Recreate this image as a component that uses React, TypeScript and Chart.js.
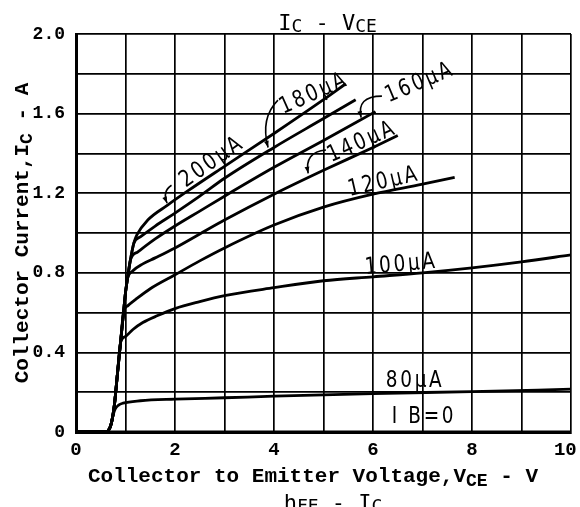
import React, { useEffect, useRef } from "react";
import { Chart, registerables } from "chart.js";

Chart.register(...registerables);

type Pt = [number, number];

// ---- data (VCE [V], IC [A]) ----
const xTickValues = [0, 2, 4, 6, 8, 10];
const yTickValues = [0, 0.4, 0.8, 1.2, 1.6, 2.0];

const ib0: Pt[] = [[0, 0], [10, 0]];
const ib80: Pt[] = [[0, 0], [0.6, 0], [0.66, 0.01], [0.71, 0.04], [0.75, 0.085], [0.79, 0.115], [0.86, 0.135], [0.95, 0.145], [1.3, 0.157], [2, 0.165], [3, 0.172], [4, 0.18], [6, 0.193], [8, 0.203], [10, 0.215]];
const ib100: Pt[] = [[0, 0], [0.6, 0], [0.66, 0.01], [0.71, 0.04], [0.75, 0.09], [0.78, 0.145], [0.84, 0.3], [0.9, 0.45], [1.0, 0.48], [1.15, 0.515], [1.35, 0.55], [1.65, 0.585], [2, 0.62], [2.5, 0.655], [3, 0.685], [4, 0.725], [5, 0.76], [6, 0.78], [7, 0.8], [8, 0.825], [9, 0.855], [10, 0.89]];
const ib120: Pt[] = [[0, 0], [0.6, 0], [0.66, 0.01], [0.71, 0.04], [0.75, 0.09], [0.78, 0.145], [0.84, 0.3], [0.9, 0.45], [0.96, 0.6], [1.05, 0.635], [1.2, 0.665], [1.5, 0.72], [2, 0.79], [2.5, 0.86], [3, 0.925], [4, 1.04], [5, 1.13], [6, 1.195], [7, 1.245], [7.65, 1.28]];
const ib140: Pt[] = [[0, 0], [0.6, 0], [0.66, 0.01], [0.71, 0.04], [0.75, 0.09], [0.78, 0.145], [0.84, 0.3], [0.9, 0.45], [0.96, 0.6], [1.0, 0.7], [1.04, 0.77], [1.15, 0.81], [1.35, 0.845], [1.6, 0.875], [2, 0.925], [2.5, 0.995], [3, 1.065], [4, 1.195], [5, 1.315], [6, 1.43], [6.5, 1.49]];
const ib160: Pt[] = [[0, 0], [0.6, 0], [0.66, 0.01], [0.71, 0.04], [0.75, 0.09], [0.78, 0.145], [0.84, 0.3], [0.9, 0.45], [0.96, 0.6], [1.0, 0.7], [1.04, 0.77], [1.1, 0.865], [1.25, 0.905], [1.6, 0.97], [2, 1.035], [2.5, 1.11], [3, 1.185], [4, 1.33], [5, 1.465], [6.05, 1.61]];
const ib180: Pt[] = [[0, 0], [0.6, 0], [0.66, 0.01], [0.71, 0.04], [0.75, 0.09], [0.78, 0.145], [0.84, 0.3], [0.9, 0.45], [0.96, 0.6], [1.0, 0.7], [1.04, 0.77], [1.1, 0.865], [1.17, 0.95], [1.3, 0.98], [1.6, 1.035], [2, 1.1], [2.5, 1.185], [3, 1.275], [4, 1.43], [5, 1.575], [5.65, 1.67]];
const ib200: Pt[] = [[0, 0], [0.6, 0], [0.66, 0.01], [0.71, 0.04], [0.75, 0.09], [0.78, 0.145], [0.84, 0.3], [0.9, 0.45], [0.96, 0.6], [1.0, 0.7], [1.04, 0.77], [1.1, 0.865], [1.17, 0.95], [1.23, 0.99], [1.45, 1.065], [1.85, 1.14], [2.25, 1.21], [3, 1.335], [4, 1.5], [5, 1.67], [5.45, 1.75]];

const seriesNames = ["IB=0", "80µA", "100µA", "120µA", "140µA", "160µA", "180µA", "200µA"];
const seriesData: Pt[][] = [ib0, ib80, ib100, ib120, ib140, ib160, ib180, ib200];

// curve labels (text, anchor in data units, rotation in degrees)
const curveLabels = [
  { text: "200µA", v: 2.75, i: 1.357, angle: 35 },
  { text: "180µA", v: 4.81, i: 1.70, angle: 24 },
  { text: "160µA", v: 6.95, i: 1.755, angle: 23 },
  { text: "140µA", v: 5.78, i: 1.457, angle: 24 },
  { text: "120µA", v: 6.22, i: 1.256, angle: 13 },
  { text: "100µA", v: 6.57, i: 0.84, angle: 5 },
  { text: "80µA", v: 6.85, i: 0.256, angle: 0 },
  { text: "I B=0", v: 7.03, i: 0.075, angle: 0 },
];

// leader arrows from label to curve (start, control, end in data units)
const leaders = [
  { s: [1.93, 1.24], c: [1.74, 1.21], e: [1.84, 1.15] },
  { s: [4.08, 1.668], c: [3.72, 1.578], e: [3.88, 1.43] },
  { s: [6.18, 1.688], c: [5.66, 1.688], e: [5.76, 1.58] },
  { s: [5.05, 1.417], c: [4.61, 1.407], e: [4.69, 1.30] },
];

type Part = { t: string; size: number; dy?: number };

function drawRich(ctx: CanvasRenderingContext2D, parts: Part[], cx: number, baseY: number, family: string, weight: string) {
  let total = 0;
  for (const p of parts) {
    ctx.font = `${weight} ${p.size}px ${family}`;
    total += ctx.measureText(p.t).width;
  }
  let x = cx - total / 2;
  ctx.textAlign = "left";
  ctx.textBaseline = "alphabetic";
  for (const p of parts) {
    ctx.font = `${weight} ${p.size}px ${family}`;
    ctx.fillText(p.t, x, baseY + (p.dy || 0));
    x += ctx.measureText(p.t).width;
  }
}

const decorPlugin = {
  id: "decor",
  afterDatasetsDraw(chart: any) {
    const { ctx, scales, chartArea } = chart;
    const xs = scales.x;
    const ys = scales.y;
    const P = (v: number, i: number) => [xs.getPixelForValue(v), ys.getPixelForValue(i)];
    ctx.save();
    ctx.fillStyle = "#000";
    ctx.strokeStyle = "#000";

    // curve labels
    for (const a of curveLabels) {
      const [px, py] = P(a.v, a.i);
      ctx.save();
      ctx.translate(px, py);
      ctx.rotate((-a.angle * Math.PI) / 180);
      ctx.scale(0.88, 1.1);
      ctx.font = '21px "DejaVu Sans"';
      (ctx as any).letterSpacing = "3px";
      ctx.textAlign = "center";
      ctx.textBaseline = "middle";
      ctx.fillText(a.text, 0, 0);
      ctx.restore();
    }

    // leaders
    ctx.lineWidth = 1.6;
    for (const l of leaders) {
      const [sx, sy] = P(l.s[0], l.s[1]);
      const [qx, qy] = P(l.c[0], l.c[1]);
      const [ex, ey] = P(l.e[0], l.e[1]);
      ctx.beginPath();
      ctx.moveTo(sx, sy);
      ctx.quadraticCurveTo(qx, qy, ex, ey);
      ctx.stroke();
      const ang = Math.atan2(ey - qy, ex - qx);
      const L = 7;
      ctx.beginPath();
      ctx.moveTo(ex, ey);
      ctx.lineTo(ex - L * Math.cos(ang - 0.35), ey - L * Math.sin(ang - 0.35));
      ctx.lineTo(ex - L * Math.cos(ang + 0.35), ey - L * Math.sin(ang + 0.35));
      ctx.closePath();
      ctx.fill();
    }

    // chart title
    const cx = (chartArea.left + chartArea.right) / 2;
    drawRich(ctx, [
      { t: "I", size: 22 },
      { t: "C", size: 18, dy: 2 },
      { t: " - V", size: 22 },
      { t: "CE", size: 18, dy: 2 },
    ], cx + 4, 30, '"DejaVu Sans Mono"', "normal");

    // x axis title
    drawRich(ctx, [
      { t: "Collector to Emitter Voltage,V", size: 21 },
      { t: "CE", size: 18, dy: 4 },
      { t: " - V", size: 21 },
    ], 313, 482, '"Liberation Mono"', "bold");

    // next chart title, cut off at the bottom
    drawRich(ctx, [
      { t: "h", size: 22 },
      { t: "FE", size: 18, dy: 2 },
      { t: " - I", size: 22 },
      { t: "C", size: 18, dy: 2 },
    ], 333, 510, '"DejaVu Sans Mono"', "normal");

    // y axis title (rotated)
    ctx.save();
    ctx.translate(28, 233);
    ctx.rotate(-Math.PI / 2);
    drawRich(ctx, [
      { t: "Collector Current,I", size: 21 },
      { t: "C", size: 18, dy: 4 },
      { t: " - A", size: 21 },
    ], 0, 0, '"Liberation Mono"', "bold");
    ctx.restore();

    ctx.restore();
  },
};

export default function App() {
  const ref = useRef<HTMLCanvasElement | null>(null);

  useEffect(() => {
    if (!ref.current) return;
    const chart = new Chart(ref.current, {
      type: "scatter",
      data: {
        datasets: seriesData.map((s, k) => ({
          label: seriesNames[k],
          data: s.map(([x, y]) => ({ x, y })),
          showLine: true,
          borderColor: "#000",
          backgroundColor: "#000",
          borderWidth: 2.8,
          pointRadius: 0,
          cubicInterpolationMode: "monotone" as const,
        })),
      },
      options: {
        responsive: false,
        animation: false,
        devicePixelRatio: 1,
        layout: { padding: { top: 34, right: 9, left: 0, bottom: 0 } },
        plugins: {
          legend: { display: false },
          tooltip: { enabled: false },
          title: { display: false },
        },
        scales: {
          x: {
            type: "linear",
            min: 0,
            max: 10,
            afterFit: (s: any) => {
              s.height = 75;
              s.paddingLeft = 0;
              s.paddingRight = 0;
            },
            afterBuildTicks: (s: any) => {
              s.ticks = [0, 1, 2, 3, 4, 5, 6, 7, 8, 9, 10].map((v) => ({ value: v }));
            },
            ticks: {
              autoSkip: false,
              maxRotation: 0,
              padding: 7,
              color: "#000",
              font: { family: "Liberation Mono", weight: "bold", size: 19 },
              // the last label is kept inside the window like in the original print
              callback: (v: any) => {
                const n = Number(v);
                if (!xTickValues.includes(n)) return "";
                return n === 10 ? "10 " : String(n);
              },
            },
            grid: { color: "#000", lineWidth: 1.7, drawTicks: false },
            border: { color: "#000", width: 3 },
          },
          y: {
            type: "linear",
            min: 0,
            max: 2,
            afterFit: (s: any) => {
              s.width = 76;
              s.paddingTop = 0;
              s.paddingBottom = 0;
            },
            afterBuildTicks: (s: any) => {
              s.ticks = [0, 1, 2, 3, 4, 5, 6, 7, 8, 9, 10].map((k) => ({ value: k / 5 }));
            },
            ticks: {
              autoSkip: false,
              padding: 11,
              color: "#000",
              font: { family: "Liberation Mono", weight: "bold", size: 18 },
              callback: (v: any) => {
                const n = Number(v);
                const hit = yTickValues.find((t) => Math.abs(t - n) < 1e-6);
                if (hit === undefined) return "";
                return hit === 0 ? "0" : hit.toFixed(1);
              },
            },
            grid: { color: "#000", lineWidth: 1.7, drawTicks: false },
            border: { color: "#000", width: 3 },
          },
        },
      },
      plugins: [decorPlugin],
    } as any);
    return () => chart.destroy();
  }, []);

  return (
    <div style={{ position: "fixed", left: 0, top: 0, width: 580, height: 507, background: "#fff" }}>
      <canvas ref={ref} width={580} height={507} style={{ display: "block" }} />
    </div>
  );
}
